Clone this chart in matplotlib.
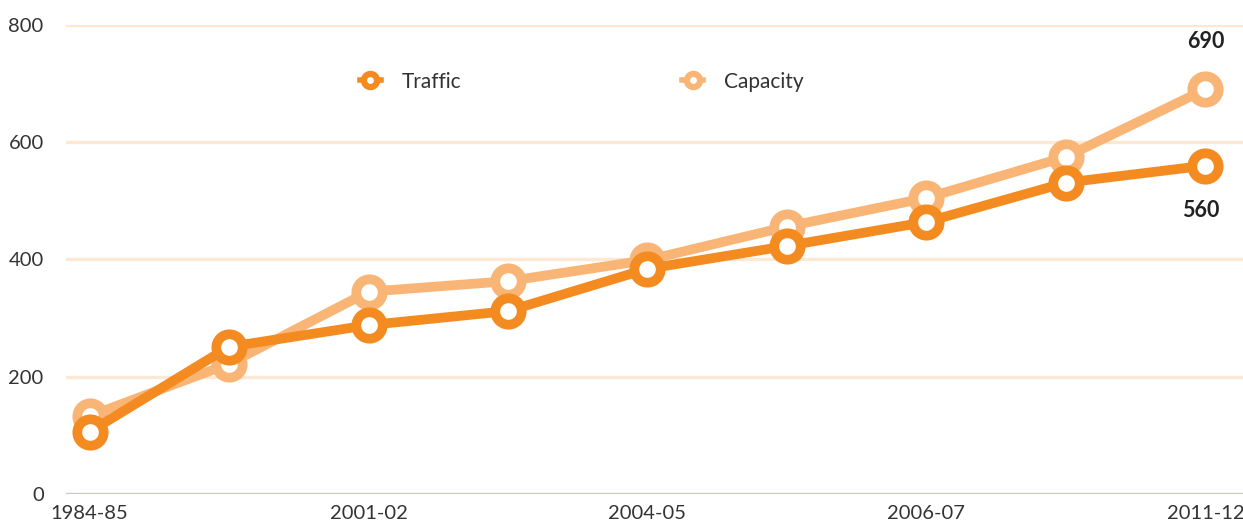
import matplotlib.pyplot as plt

# datos
periodos = ["1984-85", "", "2001-02", "", "2004-05", "", "2006-07", "", "2011-12"]
traffic = [106, 251, 288, 312, 384, 423, 464, 531, 560]
capacity = [133, 222, 345, 363, 399, 456, 505, 575, 690]
yticks = [0, 200, 400, 600, 800]

c_traffic = "#F38B21"
c_capacity = "#F9B575"

plt.rcParams["font.family"] = ["Lato", "DejaVu Sans"]

fig = plt.figure(figsize=(12.43, 5.30), dpi=100)
ax = fig.add_axes([0.053, 0.068, 0.947, 0.885])

x = list(range(len(periodos)))

for y in yticks[1:]:
    ax.axhline(y, color="#FDE8D4", linewidth=2.4, zorder=0)
ax.axhline(0, color="#F9BE89", linewidth=2.4, zorder=0)

ax.plot(x, capacity, color=c_capacity, linewidth=7, marker="o", markersize=19,
        markerfacecolor="white", markeredgecolor=c_capacity, markeredgewidth=7,
        label="Capacity", zorder=3, clip_on=False)
ax.plot(x, traffic, color=c_traffic, linewidth=7, marker="o", markersize=19,
        markerfacecolor="white", markeredgecolor=c_traffic, markeredgewidth=7,
        label="Traffic", zorder=4, clip_on=False)

ax.annotate(f"{capacity[-1]}", (x[-1], capacity[-1]), xytext=(0, 27),
            textcoords="offset points", ha="center", va="bottom",
            fontsize=15.5, fontweight="bold", color="#222222")
ax.annotate(f"{traffic[-1]}", (x[-1], traffic[-1]), xytext=(-3, -25),
            textcoords="offset points", ha="center", va="top",
            fontsize=15.5, fontweight="bold", color="#222222")

ax.set_xlim(-0.17, 8.27)
ax.set_ylim(0, 800)
ax.set_xticks(x)
ax.set_xticklabels(periodos)
ax.set_yticks(yticks)
ax.tick_params(axis="both", length=0, labelsize=14.5, labelcolor="#333333")
ax.tick_params(axis="y", pad=16)
ax.tick_params(axis="x", pad=8)
for s in ax.spines.values():
    s.set_visible(False)

handles, labels = ax.get_legend_handles_labels()
leg = ax.legend(handles[::-1], labels[::-1], ncol=2, loc="center left",
                bbox_to_anchor=(0.234, 0.879), frameon=False, fontsize=15,
                handlelength=1.0, handletextpad=1.0, columnspacing=10.6,
                markerscale=0.5)
for h in leg.legend_handles:
    h.set_markeredgewidth(4.5)
    h.set_linewidth(4)
for t in leg.get_texts():
    t.set_color("#333333")

fig.savefig("out.png", dpi=100)
